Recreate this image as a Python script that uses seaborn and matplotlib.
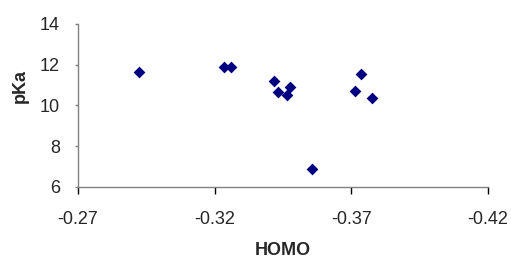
import matplotlib
matplotlib.use("Agg")
import matplotlib.pyplot as plt
import seaborn as sns
import pandas as pd

homo = [-0.2924, -0.3234, -0.3262, -0.3419, -0.3432, -0.3478, -0.3466,
        -0.3558, -0.3735, -0.3716, -0.3775]
pka = [11.63, 11.89, 11.89, 11.19, 10.65, 10.93, 10.53, 6.89, 11.55, 10.73, 10.37]
x_ticks = [-0.27, -0.32, -0.37, -0.42]
y_ticks = [6, 8, 10, 12, 14]

df = pd.DataFrame({"HOMO": homo, "pKa": pka})

sns.set_theme(style="white")
plt.rcParams["font.family"] = ["Liberation Sans", "DejaVu Sans"]

fig = plt.figure(figsize=(5.11, 2.6), dpi=100)
ax = fig.add_axes([0.1526, 0.2808, 0.8018, 0.6269])

sns.scatterplot(data=df, x="HOMO", y="pKa", marker="D", s=36, color="#000080",
                edgecolor="#000080", linewidth=0, ax=ax)

ax.set_xlim(-0.27, -0.42)
ax.set_ylim(6, 14)
ax.set_xticks(x_ticks)
ax.set_xticklabels([f"{t:.2f}" for t in x_ticks])
ax.set_yticks(y_ticks)

for side in ["top", "right"]:
    ax.spines[side].set_visible(False)
for side in ["left", "bottom"]:
    ax.spines[side].set_color("#808080")
    ax.spines[side].set_linewidth(1.0)

ax.tick_params(axis="x", direction="out", length=5, width=1, color="#000000",
               labelsize=13, pad=12, bottom=True)
ax.tick_params(axis="y", direction="out", length=2, width=1, color="#808080",
               labelsize=13, pad=11, left=True)

ax.set_xlabel("HOMO", fontsize=13, fontweight="bold")
ax.set_ylabel("pKa", fontsize=13, fontweight="bold")
ax.xaxis.set_label_coords(0.5, -0.335)
ax.yaxis.set_label_coords(-0.12, 0.62)

fig.savefig("out.png", dpi=100)
